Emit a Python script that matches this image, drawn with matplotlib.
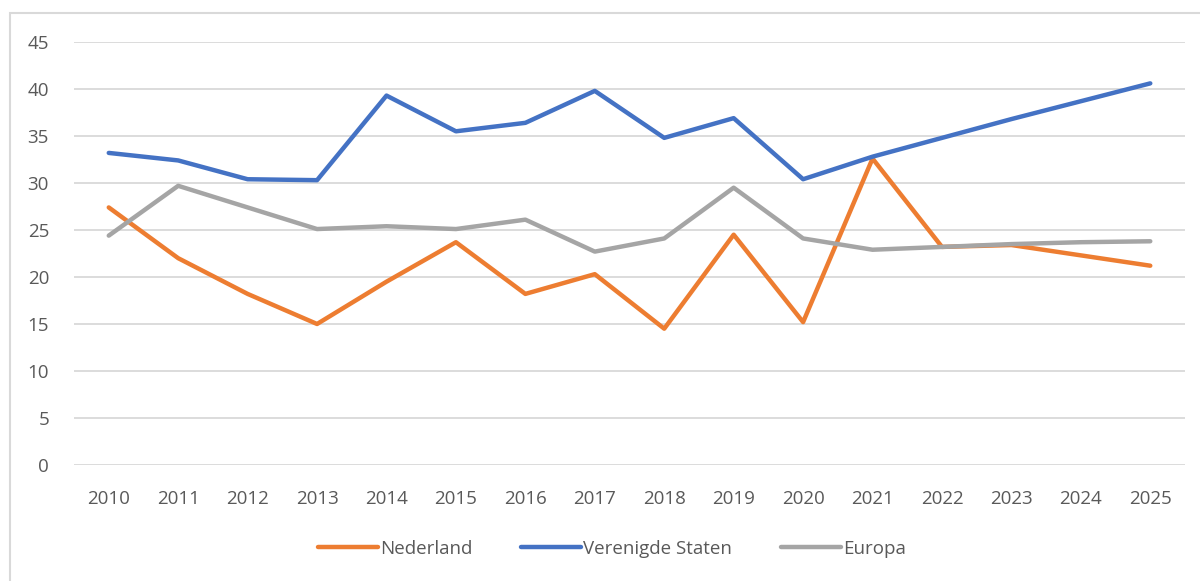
import matplotlib.pyplot as plt
from matplotlib.patches import Rectangle

plt.rcParams['font.family'] = ['Open Sans', 'DejaVu Sans']

years = [str(y) for y in range(2010, 2026)]
nederland = [27.4, 22.0, 18.2, 15.0, 19.5, 23.7, 18.2, 20.3, 14.5, 24.5,
             15.2, 32.6, 23.2, 23.4, 22.3, 21.2]
verenigde_staten = [33.2, 32.4, 30.4, 30.3, 39.3, 35.5, 36.4, 39.8, 34.8, 36.9,
                    30.4, 32.8, 34.8, 36.8, 38.7, 40.6]
europa = [24.4, 29.7, 27.4, 25.1, 25.4, 25.1, 26.1, 22.7, 24.1, 29.5,
          24.1, 22.9, 23.2, 23.5, 23.7, 23.8]

fig = plt.figure(figsize=(12, 5.81), dpi=100)
ax = fig.add_axes([0.0617, 0.1997, 0.9258, 0.728])

# outer chart frame
fig.patches.append(Rectangle((10 / 1200, -0.1), 1.2, 1 - 13 / 581 + 0.1,
                             transform=fig.transFigure, fill=False,
                             edgecolor='#D9D9D9', linewidth=1.5))

x = range(len(years))
ax.plot(x, nederland, color='#ED7D31', lw=3.2, solid_capstyle='round',
        solid_joinstyle='round', label='Nederland')
ax.plot(x, verenigde_staten, color='#4472C4', lw=3.2, solid_capstyle='round',
        solid_joinstyle='round', label='Verenigde Staten')
ax.plot(x, europa, color='#A5A5A5', lw=3.2, solid_capstyle='round',
        solid_joinstyle='round', label='Europa')

ax.set_xlim(-0.5, len(years) - 0.5)
ax.set_ylim(0, 45)
ax.set_yticks(range(0, 46, 5))
ax.set_xticks(list(x))
ax.set_xticklabels(years)
ax.grid(axis='y', color='#D9D9D9', linewidth=1.3)
ax.set_axisbelow(True)
for s in ax.spines.values():
    s.set_visible(False)
ax.tick_params(length=0, labelsize=13.5, labelcolor='#595959')
ax.tick_params(axis='y', pad=18)
ax.tick_params(axis='x', pad=18)

fig.legend(loc='center', bbox_to_anchor=(0.51, 1 - 549 / 581), ncol=3,
           frameon=False, fontsize=13.5, labelcolor='#595959',
           handlelength=3.2, handletextpad=0.1, columnspacing=2.6)

fig.savefig('out.png', dpi=100)
